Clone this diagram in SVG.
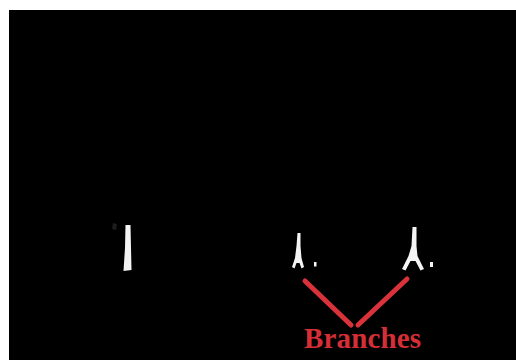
<svg xmlns="http://www.w3.org/2000/svg" width="516" height="361" viewBox="0 0 516 361">
<style>
.w{fill:#f4f4f4}
.r{stroke:#d9323a;stroke-width:5;stroke-linecap:round;fill:none}
.t{font-family:"Liberation Serif",serif;font-weight:bold;font-size:29px;fill:#d42e36}
</style>
<rect x="0" y="0" width="516" height="361" fill="#fff"/>
<rect x="9" y="10" width="507" height="350" fill="#000"/>
<g id="segment">
<path class="w" d="M125.5,225 L130.5,225 L131.5,270 L123.5,271 L125,248 Z"/>
<path d="M113,223 L117,224 L116,230 L112,229 Z" fill="#1c1c1c"/>
</g>
<g id="branch1">
<path class="w" d="M297.5,233 L300.5,233 L300.5,246 L301.5,258 L304,267 L301.5,268.5 L299.5,263 L296.5,263 L294.5,268.5 L292,267 L295,258 L296.5,246 Z"/>
<rect class="w" x="314" y="262" width="2.5" height="4.5"/>
</g>
<g id="branch2">
<path class="w" d="M412.5,227 L416.5,227 L416.5,246 L417.5,256 L424,269 L420.5,270.5 L415.5,261 L410.5,261 L405.5,270.5 L402,269 L408.5,256 L411.5,246 Z"/>
<rect class="w" x="430" y="262" width="3" height="5"/>
</g>
<g id="connectors">
<line class="r" x1="305" y1="281" x2="351" y2="325"/>
<line class="r" x1="407" y1="279" x2="358" y2="325"/>
</g>
<g id="label">
<text class="t" x="304" y="348" textLength="117">Branches</text>
</g>
</svg>
